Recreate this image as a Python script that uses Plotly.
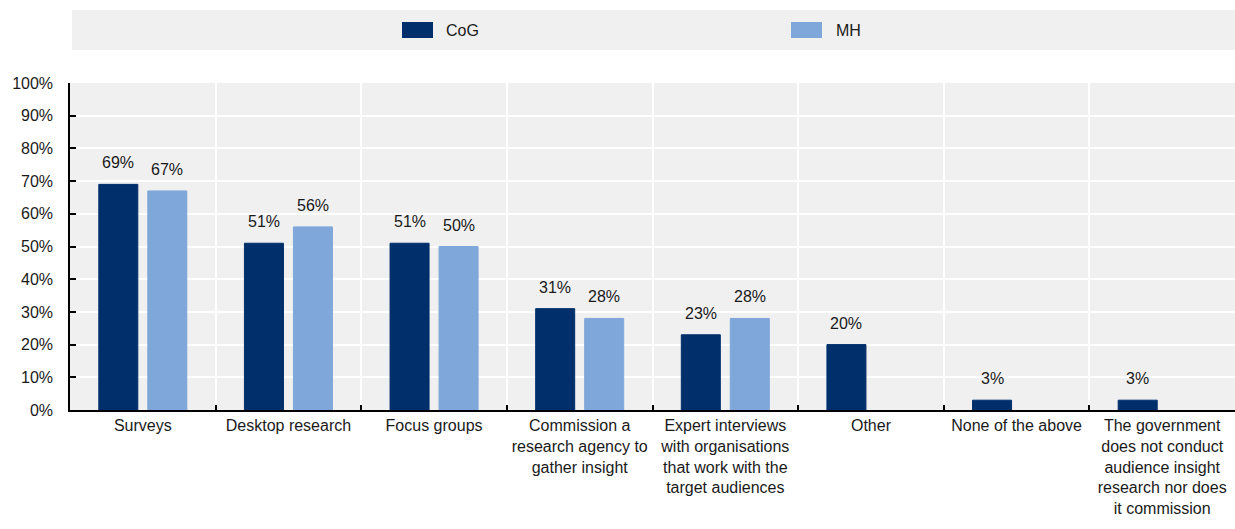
import plotly.graph_objects as go

# Audience insight research methods, share of respondents
categories = [
    "Surveys",
    "Desktop research",
    "Focus groups",
    "Commission a<br>research agency to<br>gather insight",
    "Expert interviews<br>with organisations<br>that work with the<br>target audiences",
    "Other",
    "None of the above",
    "The government<br>does not conduct<br>audience insight<br>research nor does<br>it commission",
]
cog_values = [69, 51, 51, 31, 23, 20, 3, 3]
mh_values = [67, 56, 50, 28, 28, None, None, None]
series_names = ["CoG", "MH"]

COG_COLOR = "#002F6C"
MH_COLOR = "#7FA7D9"
PANEL = "#F0F0F0"
TEXT = "#1A1A1A"
FONT = "Liberation Sans, Arial, sans-serif"
FS = 16

W, H = 1235, 529
L, R, T, B = 70, 0, 83, 119
plot_w = W - L - R
plot_h = H - T - B


def px_x(x):
    return (x - L) / plot_w


def px_y(y):
    return (H - B - y) / plot_h


fig = go.Figure()
for name, vals, color in [(series_names[0], cog_values, COG_COLOR),
                          (series_names[1], mh_values, MH_COLOR)]:
    fig.add_trace(go.Bar(
        x=categories, y=vals, name=name,
        marker=dict(color=color, line=dict(color=color, width=1)),
        showlegend=False,
    ))

# value labels above each bar
slot = 49
for vals, shift in [(cog_values, -slot / 2), (mh_values, slot / 2)]:
    for c, v in zip(categories, vals):
        if v is None:
            continue
        fig.add_annotation(
            x=c, y=v, xref="x", yref="y", text=f"{v}%", showarrow=False,
            xshift=shift, yshift=11, yanchor="bottom",
            font=dict(size=FS, color=TEXT, family=FONT),
        )

# legend band
fig.add_shape(type="rect", xref="paper", yref="paper",
              x0=px_x(72), x1=1, y0=px_y(50), y1=px_y(10),
              fillcolor=PANEL, line_width=0, layer="below")
for name, color, sx, tx in [(series_names[0], COG_COLOR, 402, 444),
                            (series_names[1], MH_COLOR, 791, 834)]:
    fig.add_shape(type="rect", xref="paper", yref="paper",
                  x0=px_x(sx), x1=px_x(sx + 31), y0=px_y(38), y1=px_y(22),
                  fillcolor=color, line_width=0)
    fig.add_annotation(x=px_x(tx), y=px_y(30), xref="paper", yref="paper",
                       text=name, showarrow=False, xanchor="left",
                       yanchor="middle",
                       font=dict(size=FS, color=TEXT, family=FONT))

fig.update_layout(
    width=W, height=H,
    margin=dict(l=L, r=R, t=T, b=B),
    paper_bgcolor="white", plot_bgcolor=PANEL,
    barmode="group", bargap=0.327, bargroupgap=0.204,
    font=dict(family=FONT, size=FS, color=TEXT),
    xaxis=dict(
        type="category", tickson="boundaries", ticks="inside", ticklen=5,
        tickwidth=1.5, tickcolor="black",
        showgrid=True, gridcolor="white", gridwidth=2,
        showline=True, linecolor="black", linewidth=1.5,
        tickfont=dict(size=FS, family=FONT, color=TEXT),
        tickangle=0,
    ),
    yaxis=dict(
        range=[0, 100], dtick=10, ticksuffix="%",
        ticks="inside", ticklen=6, tickwidth=1.5, tickcolor="black",
        showgrid=True, gridcolor="white", gridwidth=2,
        showline=True, linecolor="black", linewidth=1.5,
        zeroline=False, ticklabelstandoff=12,
        tickfont=dict(size=FS, family=FONT, color=TEXT),
    ),
)

fig.write_html("out.html")
